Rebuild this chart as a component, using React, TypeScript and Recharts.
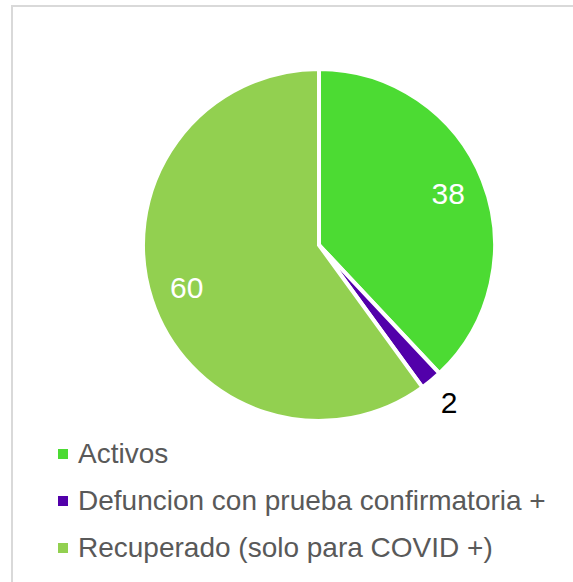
import { PieChart, Pie, Cell, Legend } from 'recharts'

const categories = ['Activos', 'Defuncion con prueba confirmatoria +', 'Recuperado (solo para COVID +)']
const values = [38, 2, 60]
const colors = ['#4cdb33', '#5200aa', '#92d050']

const data = categories.map((name, i) => ({ name, value: values[i] }))

const RADIAN = Math.PI / 180
const FONT = '"Liberation Sans", Arial, sans-serif'

// inside labels sit at ~0.8R, the small slice gets its label outside
function renderLabel(props: any) {
  const { cx, cy, midAngle, outerRadius, value, index } = props
  const outside = value < 5
  const r = outside ? outerRadius + 28 : outerRadius * 0.79
  const x = cx + r * Math.cos(-midAngle * RADIAN)
  const y = cy + r * Math.sin(-midAngle * RADIAN)
  return (
    <text
      key={index}
      x={x}
      y={y}
      fill={outside ? '#000' : '#fff'}
      textAnchor="middle"
      dominantBaseline="central"
      fontSize={30}
      fontFamily={FONT}
    >
      {value}
    </text>
  )
}

function LegendList() {
  return (
    <div style={{ fontFamily: FONT, fontSize: 28, color: '#595959' }}>
      {data.map((d, i) => (
        <div key={d.name} style={{ display: 'flex', alignItems: 'center', height: 47, whiteSpace: 'nowrap' }}>
          <span style={{ width: 10, height: 10, background: colors[i], marginRight: 10, display: 'inline-block' }} />
          <span>{d.name}</span>
        </div>
      ))}
    </div>
  )
}

export default function App() {
  return (
    <div style={{ position: 'absolute', left: 0, top: 0, width: 573, height: 582, overflow: 'hidden', background: '#fff' }}>
      <div
        style={{
          position: 'absolute',
          left: 11,
          top: 5,
          width: 700,
          height: 700,
          border: '2px solid #d9d9d9',
        }}
      />
      <div style={{ position: 'absolute', left: 0, top: 0 }}>
        <PieChart width={573} height={582} margin={{ top: 0, right: 0, bottom: 0, left: 0 }}>
          <Pie
            data={data}
            dataKey="value"
            nameKey="name"
            cx={319}
            cy={245}
            outerRadius={176}
            startAngle={90}
            endAngle={-270}
            stroke="#fff"
            strokeWidth={4}
            label={renderLabel}
            labelLine={false}
            isAnimationActive={false}
          >
            {data.map((d, i) => (
              <Cell key={d.name} fill={colors[i]} />
            ))}
          </Pie>
          <Legend
            layout="vertical"
            content={() => <LegendList />}
            wrapperStyle={{ left: 58, top: 430, width: 510, bottom: 'auto' }}
          />
        </PieChart>
      </div>
    </div>
  )
}
